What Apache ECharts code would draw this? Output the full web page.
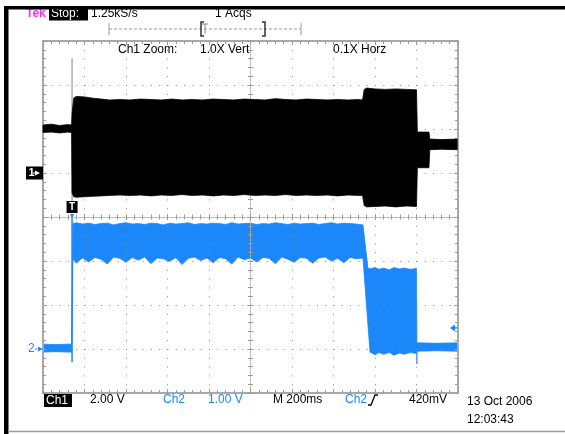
<!DOCTYPE html>
<html><head><meta charset="utf-8">
<script src="https://cdn.jsdelivr.net/npm/echarts@6/dist/echarts.min.js"></script>
<style>html,body{margin:0;padding:0;background:#fff}#c{width:565px;height:434px}</style>
</head><body><div id="c"></div>
<script>
// Screen units: x in horizontal divisions (0..10), y in vertical divisions (-4..4, 0 = centre)
// Ch1 (black) burst envelope
var ch1X = [0.00,0.20,0.40,0.60,0.69,0.70,0.74,0.80,1.00,1.20,1.40,1.60,1.85,2.10,2.35,2.60,2.85,3.10,3.35,3.60,3.85,4.10,4.35,4.60,4.85,5.10,5.35,5.60,5.85,6.10,6.35,6.60,6.85,7.10,7.35,7.60,7.70,7.74,7.80,8.00,8.25,8.50,8.75,9.00,9.02,9.30,9.32,9.60,9.98];
var ch1Upper = [2.09,2.11,2.08,2.10,2.09,2.35,2.70,2.74,2.73,2.70,2.68,2.66,2.67,2.66,2.68,2.67,2.66,2.68,2.66,2.67,2.66,2.68,2.67,2.66,2.68,2.67,2.66,2.69,2.67,2.66,2.68,2.67,2.66,2.67,2.66,2.67,2.66,2.90,2.93,2.91,2.90,2.91,2.90,2.89,1.93,1.93,1.77,1.76,1.77];
var ch1Lower = [1.92,1.93,1.91,1.93,1.92,0.55,0.46,0.45,0.46,0.47,0.48,0.49,0.50,0.49,0.50,0.48,0.50,0.49,0.51,0.49,0.50,0.48,0.50,0.49,0.51,0.49,0.50,0.49,0.51,0.49,0.50,0.49,0.50,0.48,0.50,0.49,0.49,0.26,0.23,0.24,0.25,0.23,0.25,0.24,1.12,1.12,1.53,1.54,1.53];
// Ch1 glitch line at trigger
var ch1Glitch = [[0.70, 3.61], [0.70, 0.09]];
// Ch2 (blue) envelope
var ch2X = [0.00,0.30,0.60,0.69,0.72,
  0.80,0.95,1.10,1.25,1.40,1.55,1.70,1.85,2.00,2.15,2.30,2.45,2.60,2.75,2.90,3.05,3.20,3.35,3.50,3.65,3.80,3.95,4.10,4.25,4.40,4.55,4.70,4.85,5.00,5.15,5.30,5.45,5.60,5.75,5.90,6.05,6.20,6.35,6.50,6.65,6.80,6.95,7.10,7.25,7.40,7.55,7.71,
  7.83,7.88,8.00,8.10,8.20,8.35,8.45,8.60,8.70,8.85,9.00,9.01,9.50,10.0];
var ch2Upper = [-2.89,-2.90,-2.89,-2.89,-0.15,
  -0.13,-0.16,-0.14,-0.17,-0.15,-0.14,-0.18,-0.15,-0.13,-0.16,-0.15,-0.17,-0.14,-0.15,-0.18,-0.14,-0.16,-0.15,-0.13,-0.17,-0.15,-0.16,-0.14,-0.15,-0.17,-0.13,-0.16,-0.15,-0.14,-0.17,-0.15,-0.16,-0.13,-0.15,-0.17,-0.14,-0.16,-0.15,-0.14,-0.17,-0.15,-0.13,-0.16,-0.14,-0.15,-0.16,-0.18,
  -1.16,-1.18,-1.15,-1.19,-1.16,-1.20,-1.15,-1.18,-1.16,-1.19,-1.17,-2.86,-2.87,-2.86];
var ch2Lower = [-3.07,-3.06,-3.07,-3.07,-0.95,
  -1.05,-0.93,-1.02,-0.92,-0.96,-1.07,-0.91,-0.94,-1.03,-0.92,-0.98,-0.91,-1.06,-0.93,-0.95,-1.01,-0.92,-1.08,-0.94,-0.91,-0.99,-0.93,-1.04,-0.92,-0.95,-1.07,-0.91,-0.97,-0.93,-1.02,-0.92,-0.94,-1.06,-0.91,-0.96,-1.03,-0.92,-0.94,-1.05,-0.93,-0.91,-1.00,-0.94,-1.04,-0.92,-0.95,-0.93,
  -2.45,-3.07,-3.13,-3.08,-3.12,-3.08,-3.14,-3.09,-3.12,-3.08,-3.10,-3.05,-3.04,-3.05];
// Ch2 spikes (rising edge and falling glitch)
var ch2Rise = [[0.70, -3.30], [0.70, 0.02]];
var ch2Glitch = [[9.01, -2.87], [9.01, -3.34]];
// markers
var ch1Ground = 1.0, ch2Ground = -3.0, trigX = 0.70, trigLevel = -2.52;

var BLUE = '#1c87f9';
var FONT = '12px "Liberation Sans", Arial, sans-serif';

function envelope(xs, up, lo, color, z) {
  return {
    type: 'custom', xAxisIndex: 0, yAxisIndex: 0, z: z, silent: true, animation: false,
    data: [[xs[0], up[0]]],
    renderItem: function (params, api) {
      var pts = [], i;
      for (i = 0; i < xs.length; i++) pts.push(api.coord([xs[i], up[i]]));
      for (i = xs.length - 1; i >= 0; i--) pts.push(api.coord([xs[i], lo[i]]));
      return { type: 'polygon', shape: { points: pts }, style: { fill: color, stroke: color, lineWidth: 0.8 } };
    }
  };
}
function lineS(data, color, w, z) {
  return { type: 'line', xAxisIndex: 0, yAxisIndex: 0, data: data, z: z, symbol: 'none', silent: true, animation: false,
    lineStyle: { color: color, width: w } };
}

var G = { left: 43, top: 41, width: 415, height: 352 };
var frameCol = '#a8a8a8', tickCol = '#9a9a9a';
function frameAxis(grid, pos, min, max) {
  return {
    gridIndex: grid, type: 'value', position: pos, min: min, max: max, interval: 1, z: 5,
    axisLine: { show: true, onZero: false, lineStyle: { color: frameCol, width: 2 } },
    axisTick: { show: true, inside: true, length: 4, lineStyle: { color: tickCol, width: 1 } },
    minorTick: { show: true, splitNumber: 5, length: 3, lineStyle: { color: tickCol, width: 1 } },
    axisLabel: { show: false }, splitLine: { show: false }
  };
}
function centerAxis(grid, pos, min, max) {
  return {
    gridIndex: grid, type: 'value', position: pos, min: min, max: max, interval: 1, z: 5,
    axisLine: { show: true, onZero: true, lineStyle: { color: '#b0b0b0', width: 1, type: [2, 2] } },
    axisTick: { show: true, inside: true, length: 3, lineStyle: { color: tickCol, width: 1 } },
    minorTick: { show: true, splitNumber: 5, length: 2.5, lineStyle: { color: tickCol, width: 1 } },
    axisLabel: { show: false }, splitLine: { show: false }
  };
}

var option = {
  animation: false,
  backgroundColor: '#ffffff',
  grid: [G, G, G, G],
  xAxis: [
    { gridIndex: 0, type: 'value', min: 0, max: 10, interval: 1, z: 5,
      axisLine: { show: false }, axisTick: { show: false }, axisLabel: { show: false },
      splitLine: { show: true, lineStyle: { color: '#8a8a8a', width: 1, type: [1, 7.8] } } },
    frameAxis(1, 'bottom', 0, 10),
    frameAxis(1, 'top', 0, 10),
    centerAxis(2, 'bottom', -5, 5),
    centerAxis(3, 'top', -5, 5)
  ],
  yAxis: [
    { gridIndex: 0, type: 'value', min: -4, max: 4, interval: 1, z: 5,
      axisLine: { show: false }, axisTick: { show: false }, axisLabel: { show: false },
      splitLine: { show: true, lineStyle: { color: '#8a8a8a', width: 1, type: [1, 7.3] } } },
    frameAxis(1, 'left', -4, 4),
    frameAxis(1, 'right', -4, 4),
    centerAxis(2, 'left', -4, 4),
    centerAxis(3, 'right', -4, 4)
  ],
  series: [
    envelope(ch2X, ch2Upper, ch2Lower, BLUE, 1),
    lineS(ch2Rise, BLUE, 1.5, 1),
    lineS(ch2Glitch, BLUE, 1.2, 1),
    lineS(ch1Glitch, '#9a9a9a', 1.2, 8),
    envelope(ch1X, ch1Upper, ch1Lower, '#000000', 9)
  ]
};

var chart = echarts.init(document.getElementById('c'), null, { renderer: 'canvas', width: 565, height: 434 });
chart.setOption(option);

function P(x, y) { return chart.convertToPixel({ gridIndex: 0 }, [x, y]); }
function T(txt, x, y, col, extra) {
  var s = { text: txt, x: 0, y: 0, fill: col || '#000', font: FONT, align: 'left', verticalAlign: 'middle' };
  if (extra) for (var k in extra) s[k] = extra[k];
  return { type: 'text', x: x, y: y, z: 50, style: s, silent: true };
}
function R(x, y, w, h, col, z) { return { type: 'rect', z: z || 40, silent: true, shape: { x: x, y: y, width: w, height: h }, style: { fill: col } }; }

var g1 = P(0, ch1Ground), g2 = P(0, ch2Ground), tp = P(trigX, 0), tl = P(10, trigLevel);
var gfx = [
  // header
  T('Tek', 26, 13.5, '#ff2bff', { font: 'bold 12px "Liberation Sans", Arial, sans-serif' }),
  R(49, 8, 39, 12.5, '#000'),
  T('Stop:', 51, 14, '#fff'),
  T('1.25kS/s', 91, 14),
  T('1 Acqs', 215, 14),
  // outer border
  R(4, 6, 561, 3.5, '#000', 60),
  R(4, 6, 4.5, 428, '#000', 60),
  { type: 'line', z: 60, silent: true, shape: { x1: 8, y1: 431.5, x2: 565, y2: 431.5 }, style: { stroke: '#9c9c9c', lineWidth: 1.5 } },
  // zoom bar
  { type: 'line', z: 40, silent: true, shape: { x1: 109, y1: 29, x2: 301, y2: 29 }, style: { stroke: '#9a9a9a', lineWidth: 1, lineDash: [3, 2] } },
  { type: 'line', z: 40, silent: true, shape: { x1: 109, y1: 23, x2: 109, y2: 35 }, style: { stroke: '#9a9a9a', lineWidth: 1 } },
  { type: 'line', z: 40, silent: true, shape: { x1: 301, y1: 23, x2: 301, y2: 35 }, style: { stroke: '#9a9a9a', lineWidth: 1 } },
  { type: 'polyline', z: 41, silent: true, shape: { points: [[204, 22], [201, 22], [201, 36], [204, 36]] }, style: { stroke: '#333', fill: null, lineWidth: 1.5 } },
  { type: 'polyline', z: 41, silent: true, shape: { points: [[202, 24], [208, 24]] }, style: { stroke: '#888', fill: null, lineWidth: 1 } },
  { type: 'line', z: 41, silent: true, shape: { x1: 205, y1: 24, x2: 205, y2: 34 }, style: { stroke: '#888', lineWidth: 1 } },
  { type: 'polyline', z: 41, silent: true, shape: { points: [[262, 22], [265, 22], [265, 36], [262, 36]] }, style: { stroke: '#333', fill: null, lineWidth: 1.5 } },
  // zoom legend inside grid
  T('Ch1 Zoom:', 118, 50),
  T('1.0X Vert', 200, 50),
  T('0.1X Horz', 333, 50),
  // ch1 ground marker
  R(26, g1[1] - 6.5, 17, 13, '#000', 45),
  T('1', 28.5, g1[1], '#fff', { font: 'bold 11px "Liberation Sans", Arial, sans-serif' }),
  { type: 'polygon', z: 51, silent: true, shape: { points: [[35, g1[1] - 2.5], [40, g1[1]], [35, g1[1] + 2.5]] }, style: { fill: '#fff' } },
  { type: 'line', z: 51, silent: true, shape: { x1: 33, y1: g1[1], x2: 36, y2: g1[1] }, style: { stroke: '#fff', lineWidth: 1 } },
  // trigger position marker
  R(tp[0] - 5.5, tp[1] - 16, 11, 12, '#000', 45),
  T('T', tp[0] - 3, tp[1] - 10, '#fff', { font: 'bold 10px "Liberation Sans", Arial, sans-serif' }),
  { type: 'polygon', z: 51, silent: true, shape: { points: [[tp[0] - 2, tp[1] - 3], [tp[0] + 2, tp[1] - 3], [tp[0], tp[1] + 1]] }, style: { fill: BLUE } },
  // ch2 ground marker
  T('2', 28, g2[1], BLUE),
  { type: 'line', z: 51, silent: true, shape: { x1: 35, y1: g2[1], x2: 42, y2: g2[1] }, style: { stroke: BLUE, lineWidth: 1, lineDash: [2, 1] } },
  { type: 'polygon', z: 51, silent: true, shape: { points: [[38, g2[1] - 2.5], [42.5, g2[1]], [38, g2[1] + 2.5]] }, style: { fill: BLUE } },
  // trigger level marker
  { type: 'polygon', z: 51, silent: true, shape: { points: [[tl[0] - 8, tl[1]], [tl[0] - 3, tl[1] - 3.5], [tl[0] - 3, tl[1] + 3.5]] }, style: { fill: BLUE } },
  { type: 'line', z: 51, silent: true, shape: { x1: tl[0] - 4, y1: tl[1], x2: tl[0] - 1, y2: tl[1] }, style: { stroke: BLUE, lineWidth: 1.5 } },
  // footer
  R(44, 394, 28, 13, '#000'),
  T('Ch1', 46, 400.5, '#fff'),
  T('2.00 V', 90, 400),
  T('Ch2', 163, 400, BLUE),
  T('1.00 V', 208, 400, BLUE),
  T('M 200ms', 273, 400),
  T('Ch2', 345, 400, BLUE),
  { type: 'polyline', z: 51, silent: true, shape: { points: [[368, 405], [371, 405], [375, 395], [378, 395]] }, style: { stroke: '#000', fill: null, lineWidth: 1.3 } },
  T('420mV', 409, 400),
  T('13 Oct 2006', 467, 402),
  T('12:03:43', 467, 420)
];
chart.setOption({ graphic: { elements: gfx } });
</script>
</body></html>
